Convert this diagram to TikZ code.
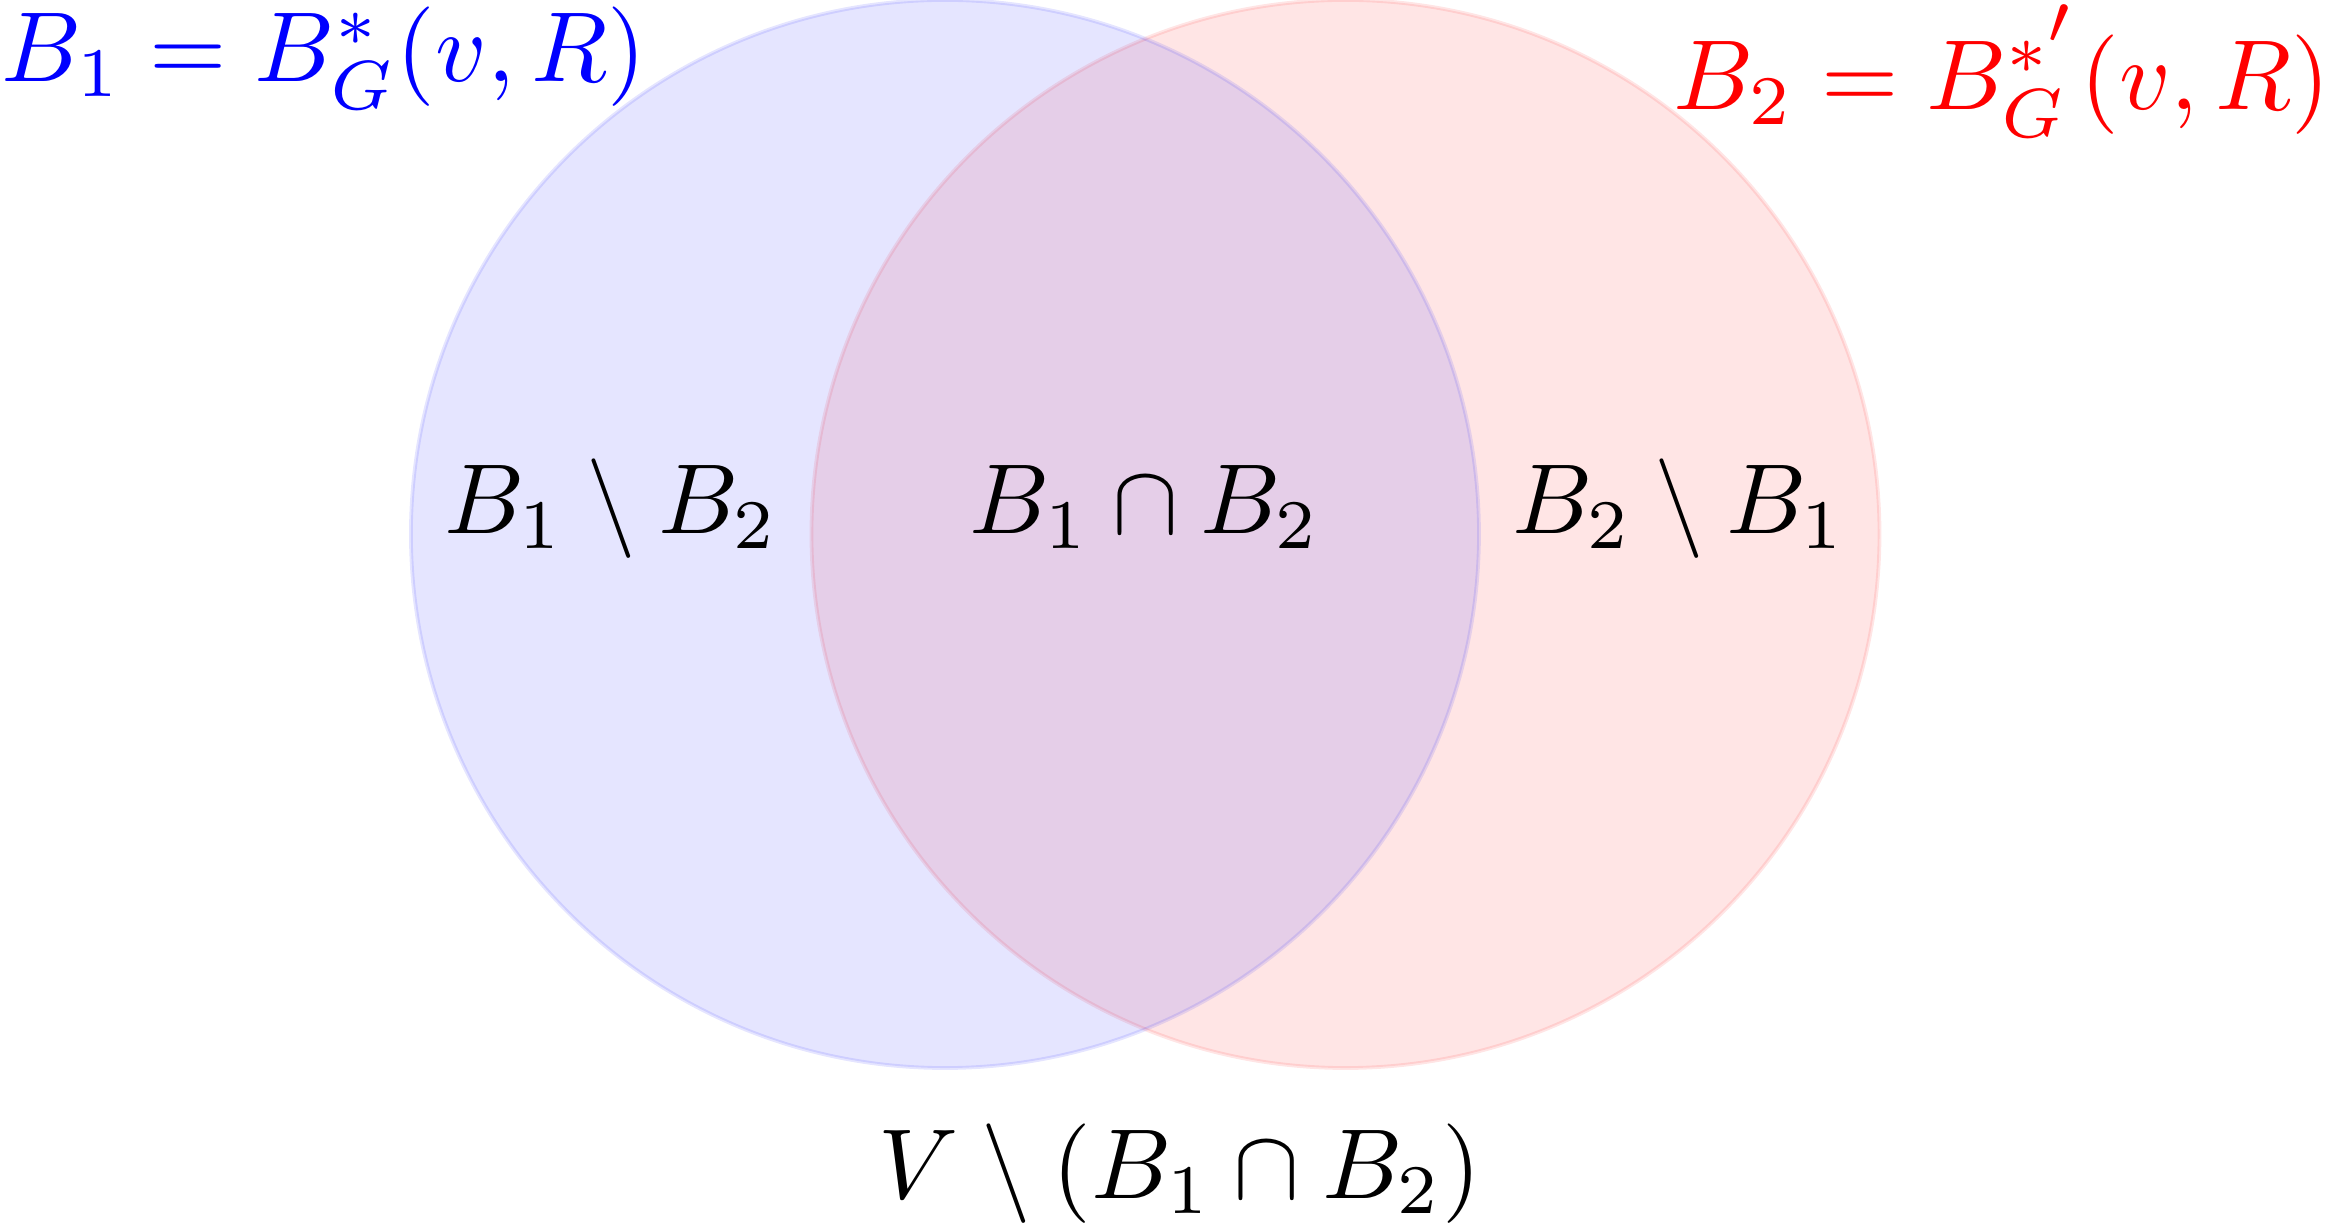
\documentclass[tikz,border=0pt]{standalone}
\usepackage{tikz}
\usepackage{graphicx}
\usepackage{amsmath}
\usepackage{amssymb}
\newcommand{\setlabel}[1]{\scalebox{1.06}{$#1$}}

\begin{document}
\begin{tikzpicture}
    \useasboundingbox (-3.539,-2.6) rectangle (5.172,2);
    \draw[red, fill=red, opacity=0.1] (1.5,0) circle (2);
    \draw[blue, fill=blue, opacity=0.1] (0,0) circle (2);
    \node[anchor=base] (onlyone) at (-1.25,0) {\setlabel{B_1 \setminus B_2}};
    \node[anchor=base] (both) at (0.75,0) {\setlabel{B_1 \cap B_2}};
    \node[anchor=base] (onlytwo) at (2.75,0) {\setlabel{B_2 \setminus B_1}};
    \node[anchor=base] (outside) at (0.88,-2.49) {\setlabel{V \setminus (B_1 \cap B_2)}};
    \node[blue, anchor=base west, inner sep=0] (ballone) at (-3.539,1.693) {\setlabel{B_1 = B^*_G(v,R)}};
    \node[red, anchor=base east, inner sep=0] (balltwo) at (5.195,1.588) {\setlabel{B_2 = B^{*^{\scriptstyle\prime}}_G(v,R)}};
\end{tikzpicture}
\end{document}
